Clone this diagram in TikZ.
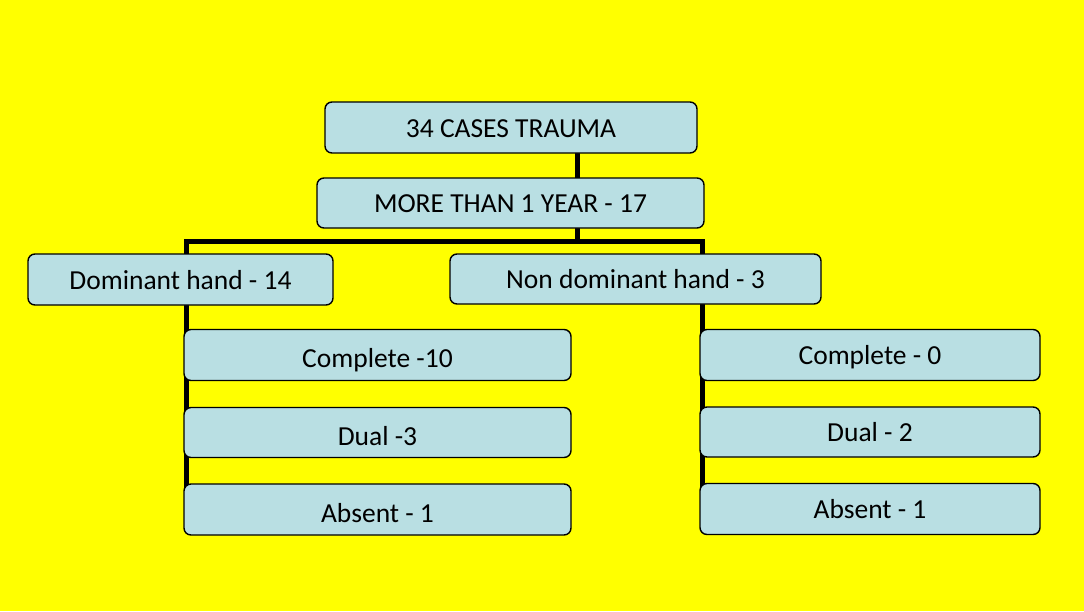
\documentclass[tikz,border=0pt]{standalone}
\usepackage{fontspec}
\setmainfont{Carlito}
\usetikzlibrary{backgrounds}
\definecolor{boxfill}{HTML}{B9DFE3}
\definecolor{bg}{HTML}{FFFF00}
\begin{document}
\begin{tikzpicture}[x=1pt,y=-1pt,
  card/.style={draw=black, line width=1.4pt, fill=boxfill, rounded corners=7pt,
    inner sep=0pt, text height=19.2pt, text depth=0pt,
    font=\fontsize{27.5}{33}\selectfont},
  lowcard/.style={card, text height=25.7pt},
  bus/.style={line width=5pt, line join=miter, line cap=rect}]
  \useasboundingbox (0,0) rectangle (1084,611);

  % bus coordinates
  \coordinate (trunk) at (577.5,241);
  \coordinate (busL) at (186.5,241);
  \coordinate (busR) at (702.5,241);

  % boxes
  \path
    (511,127.5)   node[card, minimum width=372pt, minimum height=51pt] (top) {34 CASES TRAUMA}
    (510.5,203)   node[card, minimum width=387pt, minimum height=50pt] (more) {MORE THAN 1 YEAR - 17}
    (180.5,279.5) node[card, minimum width=305pt, minimum height=51pt] (dom) {Dominant hand - 14}
    (635.5,279)   node[card, minimum width=371pt, minimum height=50pt] (non) {Non dominant hand - 3}
    (377.5,355)   node[lowcard, minimum width=387pt, minimum height=51pt] (lc) {Complete -10}
    (377.5,432.5) node[lowcard, minimum width=387pt, minimum height=50pt] (ld) {Dual -3}
    (377.5,509.5) node[lowcard, minimum width=387pt, minimum height=51pt] (la) {Absent - 1}
    (870,355)     node[card, minimum width=340pt, minimum height=51pt] (rc) {Complete - 0}
    (870,432)     node[card, minimum width=340pt, minimum height=50pt] (rd) {Dual - 2}
    (870,509)     node[card, minimum width=340pt, minimum height=51pt] (ra) {Absent - 1};

  % connectors and page colour, behind the boxes
  \begin{scope}[on background layer]
    \fill[bg] (0,0) rectangle (1084,611);
    \draw[bus] (top.south -| trunk) -- (more.north -| trunk);
    \draw[bus] (more.south -| trunk) -- (trunk);
    \draw[bus] (busL |- la.center) -- (busL) -- (busR) -- (busR |- ra.center);
  \end{scope}
\end{tikzpicture}
\end{document}
